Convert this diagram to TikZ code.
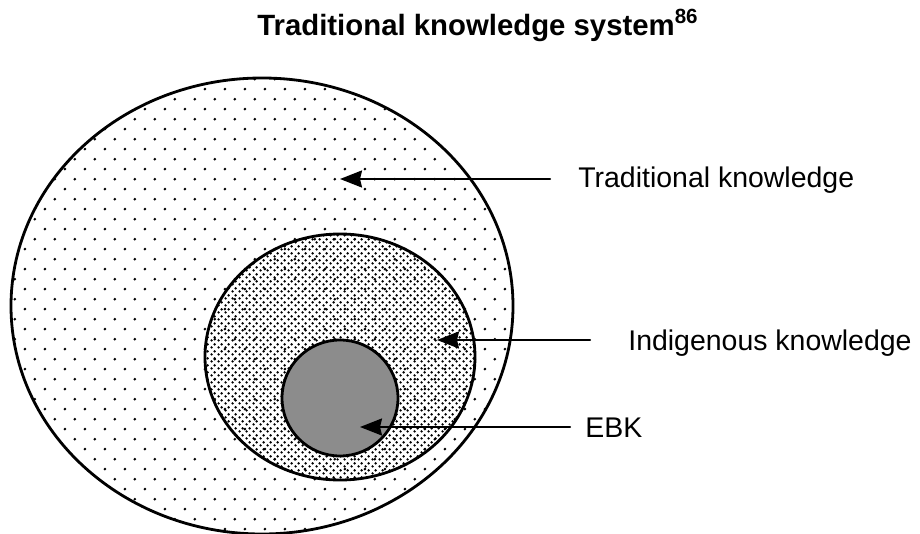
\documentclass[tikz,border=0pt]{standalone}
\usepackage{fontspec}
\setmainfont{Liberation Sans}
\usetikzlibrary{arrows.meta,calc,patterns}

% sparse dots for the outer field, dense dots for the middle one
\pgfdeclarepatternformonly{sparse dots}{\pgfqpoint{0pt}{0pt}}{\pgfqpoint{11.34pt}{11.34pt}}{\pgfqpoint{11.34pt}{11.34pt}}{%
  \pgfpathcircle{\pgfqpoint{2.8pt}{2.8pt}}{0.85pt}%
  \pgfpathcircle{\pgfqpoint{8.47pt}{8.47pt}}{0.85pt}%
  \pgfusepath{fill}}
\pgfdeclarepatternformonly{dense dots}{\pgfqpoint{0pt}{0pt}}{\pgfqpoint{3.74pt}{3.74pt}}{\pgfqpoint{3.74pt}{3.74pt}}{%
  \pgfpathcircle{\pgfqpoint{0.935pt}{0.935pt}}{0.78pt}%
  \pgfpathcircle{\pgfqpoint{2.805pt}{2.805pt}}{0.78pt}%
  \pgfusepath{fill}}

\begin{document}
\begin{tikzpicture}[x=0.02cm,y=-0.02cm,line cap=round,line join=round,>={Stealth[length=4.4mm,width=3.4mm,inset=0.4mm]},
  rim/.style={line width=1.6pt},
  pointer/.style={->,line width=1.2pt},
  lbl/.style={anchor=base west,inner sep=0pt,font=\fontsize{16.2}{19}\selectfont}]
\useasboundingbox (0,0) rectangle (920,534);
\node[lbl,font=\fontsize{16.7}{20}\selectfont\bfseries] (title) at (257,35) {Traditional knowledge system\textsuperscript{86}};
% nested fields
\draw[rim,pattern=sparse dots] (262,306) ellipse [x radius=251,y radius=228];
\draw[rim,pattern=dense dots] (340,357) ellipse [x radius=135,y radius=123];
\draw[rim,fill=black!45] (340,398) circle [radius=58];
% arrow targets
\coordinate (tk) at (340,179);
\coordinate (ik) at (437,340);
\coordinate (ebk) at (360,427);
% labels and pointers
\node[lbl] (tklabel) at (578,187) {Traditional knowledge};
\node[lbl] (iklabel) at (628,350) {Indigenous knowledge};
\node[lbl] (ebklabel) at (585,437) {EBK};
\draw[pointer] ($(tklabel.base west)+(-28,-8)$) -- (tk);
\draw[pointer] ($(iklabel.base west)+(-38,-10)$) -- (ik);
\draw[pointer] ($(ebklabel.base west)+(-15,-10)$) -- (ebk);
\end{tikzpicture}
\end{document}
